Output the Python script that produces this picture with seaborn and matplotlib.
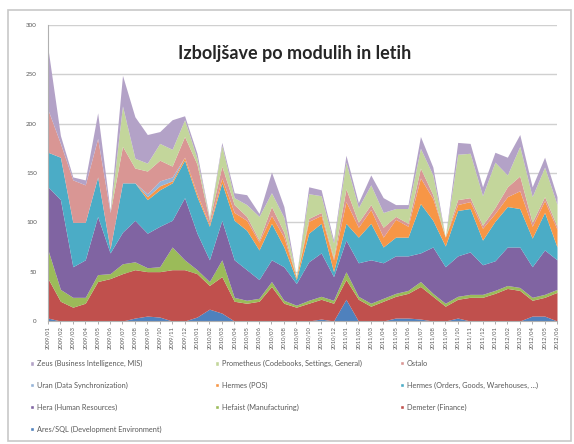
import matplotlib
matplotlib.use("Agg")
import matplotlib.pyplot as plt
from matplotlib.patches import Patch, Rectangle
import seaborn as sns

# monthly categories
months = [f"{y}/{m:02d}" for y in range(2009, 2013) for m in range(1, 13)][:42]

# series, bottom of the stack first
ares = [3, 0, 0, 0, 0, 0, 0, 3, 5, 4, 0, 0, 4, 12, 8, 0, 0, 0, 0, 0, 0,
        0, 2, 0, 22, 0, 0, 0, 3, 3, 2, 0, 0, 3, 0, 0, 0, 0, 0, 5, 5, 0]
demeter = [40, 20, 14, 18, 40, 43, 48, 49, 45, 46, 52, 52, 44, 24, 37, 20, 18, 20, 35, 18, 14,
           18, 20, 18, 20, 22, 15, 20, 22, 25, 33, 25, 15, 19, 24, 24, 28, 33, 31, 16, 19, 29]
hefaist = [29, 12, 10, 6, 7, 5, 10, 8, 4, 5, 23, 10, 4, 4, 17, 4, 3, 3, 5, 3, 2,
           3, 3, 3, 8, 3, 3, 3, 3, 3, 5, 3, 3, 3, 3, 3, 3, 3, 3, 3, 3, 3]
hera = [64, 91, 31, 38, 59, 21, 32, 42, 35, 41, 27, 63, 37, 22, 40, 38, 31, 19, 22, 34, 22,
        39, 44, 24, 32, 34, 44, 36, 38, 35, 29, 47, 37, 41, 43, 30, 30, 39, 41, 31, 45, 30]
hermes_orders = [35, 43, 45, 38, 40, 4, 50, 38, 34, 37, 38, 38, 37, 34, 38, 40, 40, 30, 37, 20, 4,
                 29, 30, 5, 17, 26, 37, 16, 19, 19, 50, 27, 21, 46, 44, 25, 40, 41, 39, 29, 38, 13]
hermes_pos = [0, 0, 0, 0, 0, 0, 0, 0, 3, 4, 2, 3, 3, 2, 5, 8, 10, 8, 8, 10, 2,
              12, 8, 12, 22, 10, 14, 10, 18, 11, 26, 22, 9, 6, 7, 12, 8, 10, 18, 12, 12, 18]
uran = [0, 0, 0, 0, 0, 0, 0, 0, 3, 5, 4, 0, 0, 0, 0, 0, 0, 0, 0, 0, 0,
        0, 0, 0, 0, 0, 0, 0, 0, 0, 0, 0, 0, 0, 0, 0, 0, 0, 0, 0, 0, 0]
ostalo = [43, 14, 43, 38, 39, 37, 37, 15, 23, 21, 11, 21, 30, 4, 12, 8, 4, 2, 9, 5, 0,
          3, 3, 2, 13, 5, 5, 10, 3, 3, 10, 4, 0, 5, 4, 3, 6, 10, 15, 4, 4, 3]
prometheus = [0, 0, 0, 0, 0, 0, 41, 10, 8, 17, 17, 17, 6, 2, 21, 7, 12, 24, 14, 15, 1,
              25, 17, 15, 27, 15, 20, 15, 8, 15, 20, 20, 0, 46, 45, 30, 46, 12, 30, 26, 30, 22]
zeus = [62, 8, 3, 5, 26, 2, 31, 42, 29, 12, 30, 4, 5, 1, 3, 5, 10, 3, 21, 11, 0,
        7, 6, 3, 7, 5, 10, 15, 4, 4, 12, 8, 0, 12, 10, 9, 10, 18, 12, 10, 10, 8]

labels = [
    "Ares/SQL (Development Environment)",
    "Demeter (Finance)",
    "Hefaist (Manufacturing)",
    "Hera (Human Resources)",
    "Hermes (Orders, Goods, Warehouses, ...)",
    "Hermes (POS)",
    "Uran (Data Synchronization)",
    "Ostalo",
    "Prometheus (Codebooks, Settings, General)",
    "Zeus (Business Intelligence, MIS)",
]
series = [ares, demeter, hefaist, hera, hermes_orders, hermes_pos, uran, ostalo, prometheus, zeus]
colors = sns.color_palette(["#4F81BD", "#C0504D", "#9BBB59", "#8064A2", "#4BACC6",
                            "#F79646", "#95B3D7", "#D99694", "#C3D69B", "#B3A2C7"])

sns.set_theme(style="white")
plt.rcParams["font.family"] = ["Lato", "DejaVu Sans"]

fig = plt.figure(figsize=(5.74, 4.44), dpi=100)
fig.patches.append(Rectangle((8 / 574, 3 / 444), 563 / 574, 431 / 444, transform=fig.transFigure,
                             fill=False, edgecolor="#c8c8c8", linewidth=1.2))

ax = fig.add_axes([48 / 574, 1 - 321 / 444, 509 / 574, 296 / 444])
x = list(range(len(months)))
ax.stackplot(x, *series, colors=colors, linewidth=0)

ax.set_xlim(0, len(months) - 1)
ax.set_ylim(0, 300)
ax.set_yticks(range(0, 301, 50))
ax.yaxis.grid(True, color="#d0d0d0", linewidth=1)
ax.set_axisbelow(True)
ax.set_xticks(x)
ax.set_xticklabels(months, rotation=90, fontsize=4.2, color="#595959")
ax.tick_params(axis="y", labelsize=4.5, labelcolor="#595959", length=0, pad=8)
ax.tick_params(axis="x", length=2, width=0.6, color="#a0a0a0", pad=1.5, bottom=True)
for side in ["top", "right"]:
    ax.spines[side].set_visible(False)
for side in ["left", "bottom"]:
    ax.spines[side].set_color("#b0b0b0")
    ax.spines[side].set_linewidth(0.8)

fig.text(295 / 574, 1 - 53 / 444, "Izboljšave po modulih in letih", ha="center", va="center",
         fontsize=13, fontweight="bold", color="#262626")

# legend laid out row by row, top series first
order = list(range(len(series)))[::-1]
handles = [Patch(facecolor=colors[i], label=labels[i]) for i in order]
col_x = [30, 215, 400]
for c in range(3):
    fig.legend(handles=handles[c::3], loc="upper left",
               bbox_to_anchor=(col_x[c] / 574, 1 - 360 / 444),
               frameon=False, fontsize=5.3, labelcolor="#595959",
               handlelength=0.5, handleheight=0.5, handletextpad=0.4,
               labelspacing=2.0, borderpad=0, borderaxespad=0)

fig.savefig("out.png", dpi=100)
